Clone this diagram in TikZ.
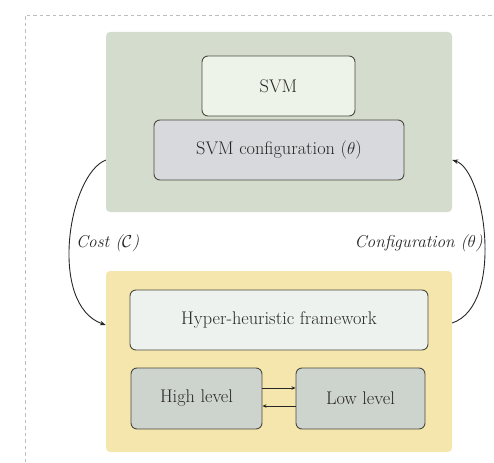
\documentclass[tikz,border=0pt]{standalone}
\usepackage{amsmath}
\usetikzlibrary{arrows.meta}
\definecolor{panelgreen}{HTML}{D4DCCE}
\definecolor{panelyellow}{HTML}{F4E6AC}
\definecolor{svmfill}{HTML}{EEF3E9}
\definecolor{cfgfill}{HTML}{D8D9DC}
\definecolor{hhfill}{HTML}{EEF2EE}
\definecolor{levelfill}{HTML}{CDD3CD}
\definecolor{edgegrey}{HTML}{4A4A40}
\definecolor{txt}{HTML}{262626}
\definecolor{framegrey}{HTML}{BDBDBD}
\tikzset{
  panel/.style={rectangle, rounded corners=4pt, draw=none, inner sep=0pt},
  box/.style={rectangle, rounded corners=6pt, draw=edgegrey, line width=0.9pt,
    inner sep=0pt, text=txt, font=\fontsize{18.3}{22}\selectfont},
  link/.style={draw=black!85, line width=0.9pt, -{Stealth[length=6pt,width=4.5pt]}},
  lbl/.style={text=txt, font=\fontsize{17.2}{20}\selectfont\itshape, inner sep=0pt}
}
\begin{document}
\begin{tikzpicture}[x=1pt,y=-1pt]
  \useasboundingbox (0,0) rectangle (494,462);
  % outer dashed frame
  \draw[framegrey, line width=0.8pt, dash pattern=on 3.5pt off 3pt] (25,462) -- (25,15) -- (494,15);

  % SVM panel
  \node[panel, fill=panelgreen, minimum width=346pt, minimum height=180pt] (top) at (279,122) {};
  \node[box, fill=svmfill, minimum width=153pt, minimum height=60pt] (svm) at (278.5,86) {SVM};
  \node[box, fill=cfgfill, minimum width=250pt, minimum height=60pt] (cfg) at (279,150) {SVM configuration ($\theta$)};

  % hyper-heuristic panel
  \node[panel, fill=panelyellow, minimum width=346pt, minimum height=181pt] (bot) at (279,361.5) {};
  \node[box, fill=hhfill, minimum width=298pt, minimum height=60pt] (hh) at (279,320) {Hyper-heuristic framework};
  \node[box, fill=levelfill, minimum width=131pt, minimum height=61pt] (high) at (196.5,398.5) {High level};
  \node[box, fill=levelfill, minimum width=129pt, minimum height=61pt] (low) at (360.5,398.5) {Low level};

  % exchange between levels
  \draw[link, -{Stealth[length=4pt,width=3.5pt]}] (high.east |- 0,388) -- (low.west |- 0,388);
  \draw[link, -{Stealth[length=4pt,width=3.5pt]}] (low.west |- 0,406) -- (high.east |- 0,406);

  % feedback loop between panels
  \draw[link] (top.west |- 0,160) .. controls (68,175) and (48,305) .. (bot.west |- 0,325);
  \draw[link] (bot.east |- 0,323) .. controls (505,305) and (485,170) .. (top.east |- 0,160);

  \node[lbl, anchor=west] (costlbl) at (76,243) {Cost ($\mathcal{C}$)};
  \node[lbl, anchor=east] (conflbl) at (483,243) {Configuration ($\theta$)};
\end{tikzpicture}
\end{document}
